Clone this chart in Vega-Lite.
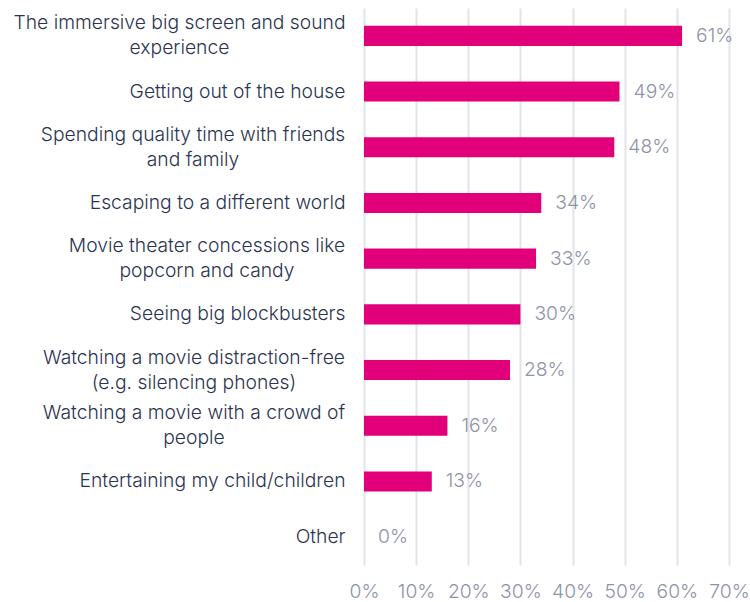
{
  "$schema": "https://vega.github.io/schema/vega-lite/v6.json",
  "width": 750,
  "height": 602,
  "autosize": {"type": "fit", "contains": "padding"},
  "padding": {"top": 8, "left": 12, "right": 0, "bottom": 0},
  "background": "white",
  "data": {
    "values": [
      {"label": "The immersive big screen and sound|experience", "pct": 61},
      {"label": "Getting out of the house", "pct": 49},
      {"label": "Spending quality time with friends|and family", "pct": 48},
      {"label": "Escaping to a different world", "pct": 34},
      {"label": "Movie theater concessions like|popcorn and candy", "pct": 33},
      {"label": "Seeing big blockbusters", "pct": 30},
      {"label": "Watching a movie distraction-free|(e.g. silencing phones)", "pct": 28},
      {"label": "Watching a movie with a crowd of|people", "pct": 16},
      {"label": "Entertaining my child/children", "pct": 13},
      {"label": "Other", "pct": 0}
    ]
  },
  "config": {
    "view": {"stroke": null},
    "font": "Inter"
  },
  "encoding": {
    "y": {
      "field": "label",
      "type": "nominal",
      "sort": null,
      "scale": {"paddingInner": 0.64, "paddingOuter": 0.32},
      "axis": {
        "title": null,
        "domain": false,
        "ticks": false,
        "grid": false,
        "labelExpr": "split(datum.label, '|')",
        "labelFont": "Inter",
        "labelFontWeight": 300,
        "labelFontSize": 19.3,
        "labelColor": "#2B3452",
        "labelLineHeight": 25,
        "labelLimit": 400,
        "labelAlign": {"condition": {"test": "indexof(datum.value, '|') >= 0", "value": "center"}, "value": "right"},
        "labelOffset": {"condition": {"test": "indexof(datum.value, '|') >= 0", "value": -12.5}, "value": 0},
        "labelPadding": {"condition": [
          {"test": "datum.value == 'The immersive big screen and sound|experience'", "value": 185},
          {"test": "datum.value == 'Spending quality time with friends|and family'", "value": 171.5},
          {"test": "datum.value == 'Movie theater concessions like|popcorn and candy'", "value": 157.5},
          {"test": "datum.value == 'Watching a movie distraction-free|(e.g. silencing phones)'", "value": 170.5},
          {"test": "datum.value == 'Watching a movie with a crowd of|people'", "value": 170.5}
        ], "value": 19}
      }
    },
    "x": {
      "field": "pct",
      "type": "quantitative",
      "scale": {"domain": [0, 70], "nice": false},
      "axis": {
        "title": null,
        "domain": false,
        "ticks": false,
        "values": [0, 10, 20, 30, 40, 50, 60, 70],
        "labelExpr": "datum.value + '%'",
        "labelOverlap": false,
        "labelFlush": false,
        "labelFont": "Inter",
        "labelFontWeight": 300,
        "labelFontSize": 19.3,
        "labelColor": "#8E93A8",
        "labelPadding": 17,
        "gridColor": "#E3E3EA",
        "gridWidth": 2
      }
    }
  },
  "layer": [
    {"mark": {"type": "bar", "color": "#E2007A"}},
    {
      "transform": [{"calculate": "datum.pct + '%'", "as": "pctLabel"}],
      "mark": {"type": "text", "align": "left", "dx": 14, "fontSize": 19.3, "fontWeight": 300, "font": "Inter", "color": "#8E93A8"},
      "encoding": {"text": {"field": "pctLabel", "type": "nominal"}}
    }
  ]
}
